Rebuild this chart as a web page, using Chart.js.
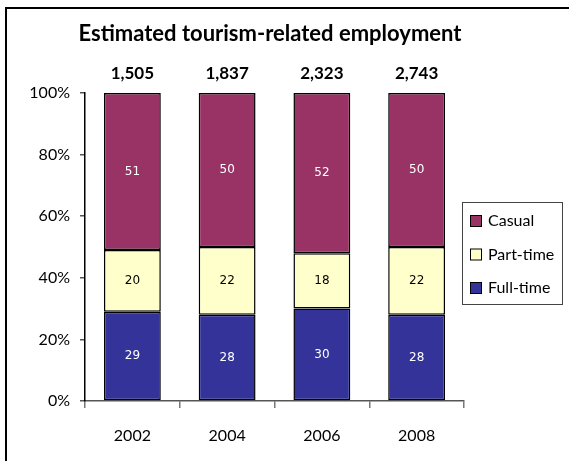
<!DOCTYPE html>
<html>
<head>
<meta charset="utf-8">
<script src="https://cdn.jsdelivr.net/npm/chart.js@4/dist/chart.umd.min.js"></script>
<style>
  body { margin: 0; background: #fff; }
  canvas { display: block; }
</style>
</head>
<body>
<canvas id="myChart" width="569" height="461"></canvas>
<script>
var years = ['2002', '2004', '2006', '2008']
var totals = ['1,505', '1,837', '2,323', '2,743']
var fullTime = [29, 28, 30, 28]
var partTime = [20, 22, 18, 22]
var casual = [51, 50, 52, 50]
var yTicks = [0, 20, 40, 60, 80, 100]

var FONT = 'Lato, "DejaVu Sans", sans-serif'

// frame, title, totals, values and legend
var extras = {
  id: 'extras',
  afterDraw: function(chart){
    var ctx = chart.ctx
    var xs = chart.scales.x, ys = chart.scales.y
    ctx.save()

    ctx.strokeStyle = '#000'
    ctx.lineWidth = 2
    ctx.beginPath()
    ctx.moveTo(6, 461); ctx.lineTo(6, 8); ctx.lineTo(569, 8)
    ctx.stroke()

    ctx.fillStyle = '#000'
    ctx.textAlign = 'center'
    ctx.textBaseline = 'middle'
    ctx.font = 'bold 22px ' + FONT
    ctx.fillText('Estimated tourism-related employment', 270, 34)

    ctx.font = 'bold 17px ' + FONT
    totals.forEach(function(t, i){
      ctx.fillText(t, xs.getPixelForValue(i), ys.getPixelForValue(100) - 19)
    })

    ctx.font = '12px "DejaVu Sans", sans-serif'
    chart.data.datasets.forEach(function(ds, d){
      var meta = chart.getDatasetMeta(d)
      meta.data.forEach(function(bar, i){
        ctx.fillStyle = ds.labelColor
        ctx.fillText(ds.data[i], bar.x, (bar.y + bar.base) / 2)
      })
    })

    // legend
    ctx.strokeStyle = '#444'
    ctx.lineWidth = 1
    ctx.strokeRect(462.5, 202.5, 100, 102)
    ctx.font = '16px ' + FONT
    ctx.textAlign = 'left'
    var order = [2, 1, 0]
    order.forEach(function(d, k){
      var ds = chart.data.datasets[d]
      var cy = 221 + k * 33.5
      ctx.fillStyle = ds.backgroundColor
      ctx.fillRect(470.5, cy - 5.5, 11, 11)
      ctx.strokeStyle = '#000'
      ctx.strokeRect(470.5, cy - 5.5, 11, 11)
      ctx.fillStyle = '#000'
      ctx.fillText(ds.label, 488, cy)
    })
    ctx.restore()
  }
}

var chart = new Chart(document.getElementById('myChart').getContext('2d'), {
  type: 'bar',
  data: {
    labels: years,
    datasets: [
      { label: 'Full-time', data: fullTime, backgroundColor: '#333399', labelColor: '#fff' },
      { label: 'Part-time', data: partTime, backgroundColor: '#FFFFCC', labelColor: '#000' },
      { label: 'Casual', data: casual, backgroundColor: '#993366', labelColor: '#fff' }
    ].map(function(ds){
      ds.borderColor = '#000'
      ds.borderWidth = 1.5
      ds.borderSkipped = false
      ds.barPercentage = 0.6
      ds.categoryPercentage = 1
      return ds
    })
  },
  options: {
    responsive: false,
    animation: false,
    devicePixelRatio: 1,
    layout: { padding: { top: 93, right: 105, left: 0, bottom: 0 } },
    plugins: { legend: { display: false }, title: { display: false }, tooltip: { enabled: false } },
    scales: {
      x: {
        stacked: true,
        grid: { offset: true, drawOnChartArea: false, tickLength: 7, color: '#777', lineWidth: 1.5 },
        border: { display: true, color: '#555', width: 1.5 },
        ticks: { color: '#000', font: { family: FONT, size: 16 }, padding: 18 },
        afterFit: function(s){ s.height = 60 }
      },
      y: {
        stacked: true,
        min: 0, max: 100,
        afterBuildTicks: function(s){ s.ticks = yTicks.map(function(v){ return { value: v } }) },
        grid: { drawOnChartArea: false, tickLength: 5, color: '#555', lineWidth: 1.5 },
        border: { display: true, color: '#000', width: 1.5 },
        ticks: { color: '#000', font: { family: FONT, size: 16 }, padding: 10,
                 callback: function(v){ return v + '%' } },
        afterFit: function(s){ s.width = 85 }
      }
    }
  },
  plugins: [extras]
})
</script>
</body>
</html>
